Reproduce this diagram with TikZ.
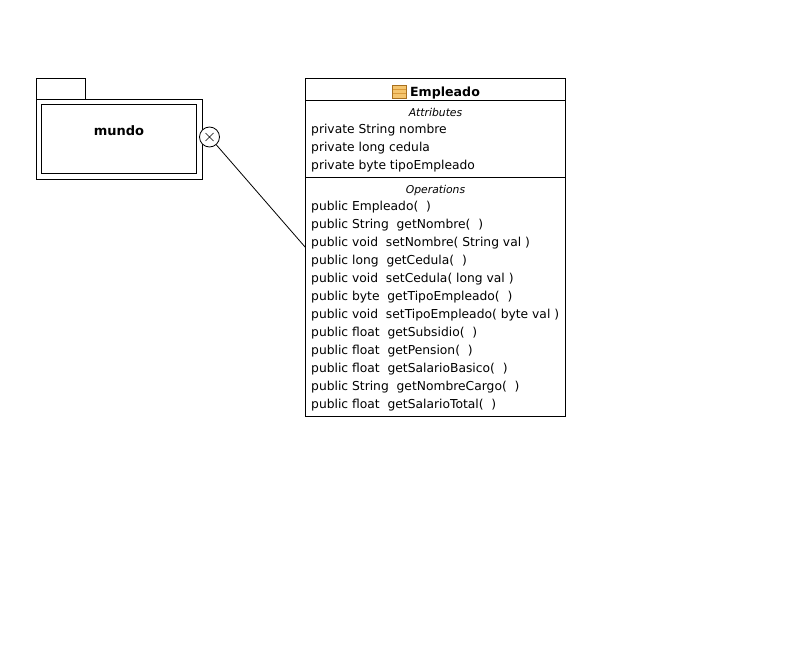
\documentclass[tikz,border=0pt]{standalone}
\usepackage{fontspec}
\setmainfont{DejaVu Sans}
\definecolor{iconfill}{HTML}{F5C56E}
\definecolor{iconedge}{HTML}{A8701E}
\definecolor{iconband}{HTML}{D99A3A}
\tikzset{
  umlbox/.style={draw=black,line width=1pt,fill=white,inner sep=0pt,outer sep=0pt},
  member/.style={anchor=base west,inner sep=0pt,font=\fontsize{12.3}{14}\selectfont},
  caption/.style={anchor=base,inner sep=0pt,font=\fontsize{10.8}{13}\selectfont\itshape},
  title/.style={anchor=base,inner sep=0pt,font=\fontsize{12.6}{15}\selectfont\bfseries},
  compline/.style={draw=black,line width=1pt},
  conn/.style={draw=black,line width=0.8pt}
}
\begin{document}
\begin{tikzpicture}[x=1pt,y=-1pt]
\useasboundingbox (0,0) rectangle (811,655);
% package
\node[umlbox,minimum width=49pt,minimum height=21pt] (tab) at (61,89) {};
\node[umlbox,minimum width=166pt,minimum height=80pt] (pkg) at (119.5,139.5) {};
\node[umlbox,minimum width=155pt,minimum height=69pt] (inner) at (119,139) {};
\node[title,font=\fontsize{13}{15}\selectfont\bfseries] (mundo) at (119,135.5) {mundo};
% class
\node[umlbox,minimum width=260pt,minimum height=338pt] (emp) at (435.5,247.5) {};
% connector
\node[draw=black,line width=0.8pt,fill=white,circle,minimum size=20pt,inner sep=0pt] (port) at (209.5,137) {};
\draw[conn] (port) -- (emp.west);
\draw[line width=0.7pt] (port.center)+(-4,-4) -- +(4,4) (port.center)+(-4,4) -- +(4,-4);
\draw[compline] (305.5,100.5) -- (565.5,100.5);
\draw[compline] (305.5,177.5) -- (565.5,177.5);
% icon
\fill[iconfill,draw=iconedge,line width=0.7pt] (392.5,85.5) rectangle (406,98);
\draw[iconband,line width=0.7pt] (393,89.5) -- (405.5,89.5) (393,93.5) -- (405.5,93.5);
\node[title] (cname) at (445,96.5) {Empleado};
\node[caption] (attr) at (435.5,116.5) {Attributes};
\node[member] (a1) at (311,133.5) {private String nombre};
\node[member] (a2) at (311,151.5) {private long cedula};
\node[member] (a3) at (311,169.5) {private byte tipoEmpleado};
\node[caption] (ops) at (435.5,193.5) {Operations};
\node[member] (o1) at (311,210.5) {public Empleado(\ \ )};
\node[member] (o2) at (311,228.5) {public String\ \ getNombre(\ \ )};
\node[member] (o3) at (311,246.5) {public void\ \ setNombre( String val )};
\node[member] (o4) at (311,264.5) {public long\ \ getCedula(\ \ )};
\node[member] (o5) at (311,282.5) {public void\ \ setCedula( long val )};
\node[member] (o6) at (311,300.5) {public byte\ \ getTipoEmpleado(\ \ )};
\node[member] (o7) at (311,318.5) {public void\ \ setTipoEmpleado( byte val )};
\node[member] (o8) at (311,336.5) {public float\ \ getSubsidio(\ \ )};
\node[member] (o9) at (311,354.5) {public float\ \ getPension(\ \ )};
\node[member] (o10) at (311,372.5) {public float\ \ getSalarioBasico(\ \ )};
\node[member] (o11) at (311,390.5) {public String\ \ getNombreCargo(\ \ )};
\node[member] (o12) at (311,408.5) {public float\ \ getSalarioTotal(\ \ )};
\end{tikzpicture}
\end{document}
